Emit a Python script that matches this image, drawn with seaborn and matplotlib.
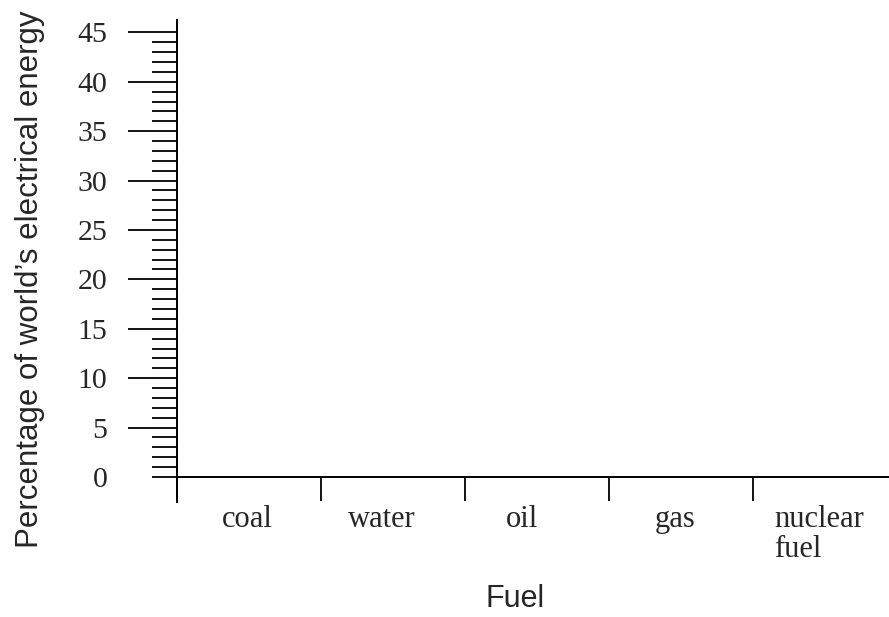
import numpy as np
import pandas as pd
from matplotlib import pyplot as plt
from matplotlib import transforms
import seaborn as sns

# Leeres Arbeitsblatt-Diagramm: Kategorien und (noch leere) Werte
fuels = ["coal", "water", "oil", "gas", "nuclear\nfuel"]
percentages = [0, 0, 0, 0, 0]
y_major = [0, 5, 10, 15, 20, 25, 30, 35, 40, 45]

sns.set_theme(style="white")
plt.rcParams['font.family'] = ['Liberation Serif', 'DejaVu Serif']

df = pd.DataFrame({"Fuel": fuels, "Percentage": percentages})

fig = plt.figure(figsize=(8.89, 6.17), dpi=100)
ax = fig.add_axes([177 / 889, 115 / 617, 712 / 889, 482 / 617])

sns.barplot(data=df, x="Fuel", y="Percentage", color="white", edgecolor="none", ax=ax)

ax.set_xlim(-0.5, 4.444)
ax.set_ylim(-2.53, 46.25)

# Achsenlinien
for side in ["top", "right"]:
    ax.spines[side].set_visible(False)
ax.spines["bottom"].set_position(("data", 0))
for side in ["left", "bottom"]:
    ax.spines[side].set_linewidth(1.4)
    ax.spines[side].set_color("black")

# y-Achse: große Striche alle 5, kleine Striche alle 1
ax.set_yticks(y_major)
ax.set_yticklabels([str(v) for v in y_major])
ax.set_yticks(np.arange(1, 46, 1), minor=True)
ax.tick_params(axis="y", which="major", direction="out", length=35, width=1.3,
               color="black", pad=15, labelsize=21.5, left=True)
ax.tick_params(axis="y", which="minor", direction="out", length=18, width=1.3,
               color="black", left=True)
ax.yaxis.get_major_ticks()[0].tick1line.set_markersize(18)

# x-Achse: Striche an den Kategoriegrenzen, Beschriftung in der Mitte
ax.set_xticks(range(len(fuels)))
ax.set_xticklabels(fuels, ha="center", multialignment="left", linespacing=1.07)
ax.set_xticks(np.arange(-0.5, 4.0, 1), minor=True)
ax.tick_params(axis="x", which="major", length=0, pad=20, labelsize=22, bottom=True)
ax.tick_params(axis="x", which="minor", direction="out", length=17, width=1.3,
               color="black", bottom=True)

# Beschriftungen leicht versetzt wie im Original
shifts = [-1.4, -7.9, -10.8, -4.3, -4.3]
for lab, dx in zip(ax.get_xticklabels(), shifts):
    lab.set_transform(lab.get_transform() +
                      transforms.ScaledTranslation(dx / 72, 0, fig.dpi_scale_trans))

ax.set_xlabel("Fuel", family=["Liberation Sans", "DejaVu Sans"], fontsize=22)
ax.set_ylabel("Percentage of world\u2019s electrical energy",
              family=["Liberation Sans", "DejaVu Sans"], fontsize=22.5)
ax.xaxis.set_label_coords(0.4747, -0.170)
ax.yaxis.set_label_coords(-0.1854, 0.4627)

fig.savefig("out.png", dpi=100)
